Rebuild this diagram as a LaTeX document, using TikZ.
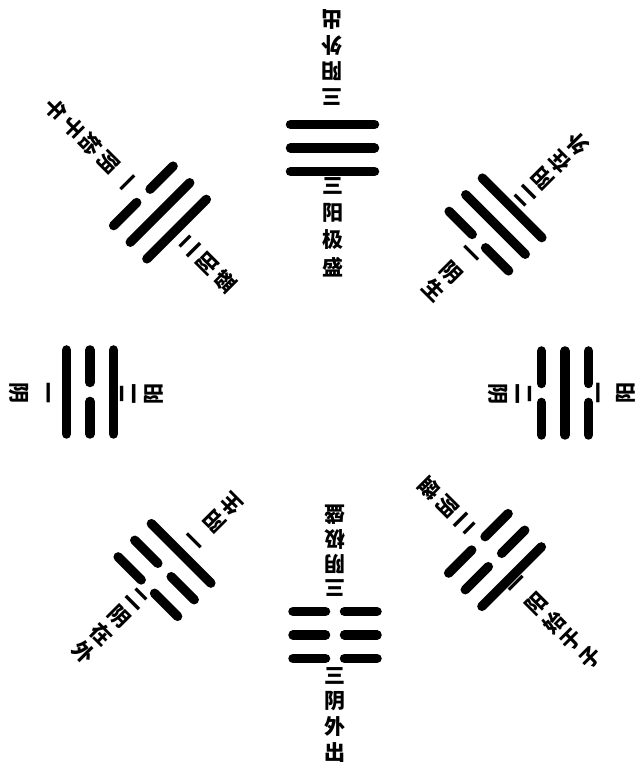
\documentclass[tikz,border=0pt]{standalone}
\usepackage{fontspec}
\newfontfamily\cjk{Noto Sans CJK SC}
\tikzset{
  yaoline/.style={line width=9.5pt, line cap=round, black},
  lab/.style={font=\cjk\bfseries\fontsize{21}{21}\selectfont, inner sep=0pt, anchor=center}
}
% one yao line: #1 local y, #2 = 1 solid, 0 broken
\newcommand\yaoline[2]{%
  \ifnum#2=1
    \draw[yaoline] (-42,#1) -- (42,#1);
  \else
    \draw[yaoline] (-42,#1) -- (-9.5,#1) (9.5,#1) -- (42,#1);
  \fi}
% trigram: #1 centre, #2 rotation, #3 inner, #4 middle, #5 outer
\newcommand\trigr[5]{%
  \begin{scope}[shift={#1}, rotate=#2]
    \yaoline{-23.5}{#3}\yaoline{0}{#4}\yaoline{23.5}{#5}
  \end{scope}}
% vertical label: #1 name, #2 first char centre, #3 angle, #4 pitch, #5 chars
\newcommand\vlab[5]{%
  \begin{scope}[shift={#2}, rotate=#3, transform shape]
    \foreach \ch [count=\i] in {#5}
      \node[lab] (#1-\i) at (0,{-(\i-1)*#4}) {\ch};
  \end{scope}}
\begin{document}
\begin{tikzpicture}[x=1pt,y=1pt]
\useasboundingbox (0,0) rectangle (637,765);
% trigrams
\trigr{(332.5,617)}{0}{1}{1}{1}     % Qian
\trigr{(160,552.5)}{45}{1}{1}{0}    % Dui
\trigr{(90,373)}{90}{1}{0}{1}       % Li
\trigr{(164.5,195)}{135}{1}{0}{0}   % Zhen
\trigr{(335,130)}{180}{0}{0}{0}     % Kun
\trigr{(495,205)}{225}{0}{0}{1}     % Gen
\trigr{(565,372)}{-90}{0}{1}{0}     % Kan
\trigr{(495.5,540.5)}{-45}{0}{1}{1} % Xun
% labels
\vlab{qi}{(333,579)}{0}{27}{三,阳,极,盛}
\vlab{qo}{(332,668)}{180}{26}{三,阳,外,出}
\vlab{ki}{(335,177)}{180}{24.5}{三,阴,极,盛}
\vlab{ko}{(335,89)}{0}{25.5}{三,阴,外,出}
\vlab{lo}{(45,372)}{-90}{26}{一,阴}
\vlab{li}{(128,371)}{90}{26}{二,阳}
\vlab{kni}{(524,371)}{-90}{26}{二,阴}
\vlab{kno}{(602,372)}{90}{24}{一,阳}
\vlab{do}{(126,585)}{225}{25}{一,阴,始,于,午}
\vlab{di}{(190,519)}{45}{25}{二,阳,盛}
\vlab{xi}{(469,510)}{-45}{25}{一,阴,生}
\vlab{xo}{(525,569)}{135}{24.5}{二,阳,在,外}
\vlab{zi}{(197,226)}{135}{24.5}{一,阳,生}
\vlab{zo}{(137,166)}{-45}{25}{二,阴,在,外}
\vlab{gi}{(465,241)}{225}{25}{二,阴,盛}
\vlab{go}{(518,179)}{45}{25.5}{一,阳,始,于,子}
\end{tikzpicture}
\end{document}
